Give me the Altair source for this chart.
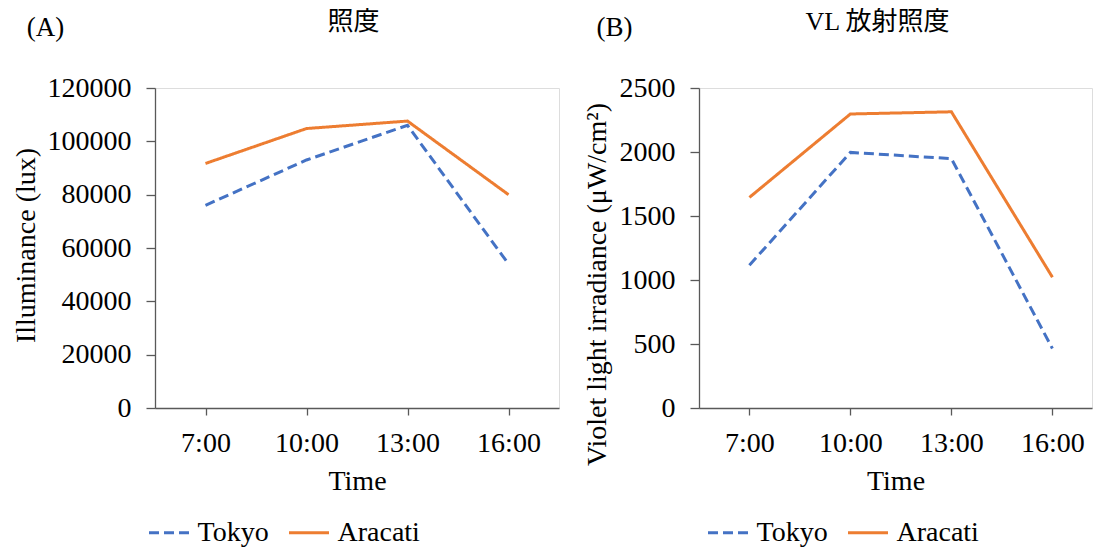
import altair as alt
import pandas as pd

# ---- data ----
times = ["7:00", "10:00", "13:00", "16:00"]
series = ["Tokyo", "Aracati"]
tokyo_lux = [76000, 93000, 106000, 54000]
aracati_lux = [91700, 104800, 107600, 80000]
tokyo_vl = [1115, 1997, 1948, 465]
aracati_vl = [1645, 2297, 2314, 1022]
lux_ticks = [0, 20000, 40000, 60000, 80000, 100000, 120000]
vl_ticks = [0, 500, 1000, 1500, 2000, 2500]

colors = ["#4472C4", "#ED7D31"]
dashes = [[10, 5], [1, 0]]

SERIF = "Liberation Serif"
MIXED = "Liberation Serif, Noto Sans CJK JP"
AXIS_COLOR = "#595959"
H = 320


def frame(tok, ara):
    rows = []
    for name, vals in zip(series, [tok, ara]):
        for t, v in zip(times, vals):
            rows.append({"Time": t, "Series": name, "Value": v})
    return pd.DataFrame(rows)


def panel(df, width, xscale, ytitle, ydomain, yticks, title, title_x, label,
          label_x, legend_x, ytitle_x, ytitle_y):
    legend = alt.Legend(
        title=None, orient="none", legendX=legend_x, legendY=423,
        direction="horizontal", symbolType="stroke", symbolSize=1600,
        symbolStrokeWidth=3, labelFont=SERIF, labelFontSize=28,
        labelColor="black", labelOffset=7, columnPadding=13, padding=0,
        labelLimit=0,
    )
    line = alt.Chart(df).mark_line(strokeWidth=3).encode(
        x=alt.X("Time:N", sort=times, scale=xscale,
                axis=alt.Axis(title="Time", labelAngle=0, tickSize=7,
                              labelPadding=14, labelFont=SERIF,
                              labelFontSize=28, labelColor="black",
                              titleFont=SERIF, titleFontSize=28,
                              titleFontWeight="normal", titleColor="black",
                              titleY=59, titleBaseline="top",
                              domainColor=AXIS_COLOR, tickColor=AXIS_COLOR,
                              domainWidth=1.3, tickWidth=1.3, grid=False)),
        y=alt.Y("Value:Q", scale=alt.Scale(domain=ydomain, nice=False),
                axis=alt.Axis(title=ytitle, values=yticks, format="d",
                              tickSize=9, labelPadding=15, labelFont=SERIF,
                              labelFontSize=28, labelColor="black",
                              titleFont=SERIF, titleFontSize=28,
                              titleFontWeight="normal", titleColor="black",
                              titleAngle=270, titleBaseline="alphabetic",
                              titleX=ytitle_x, titleY=ytitle_y,
                              domainColor=AXIS_COLOR, tickColor=AXIS_COLOR,
                              domainWidth=1.3, tickWidth=1.3, grid=False)),
        color=alt.Color("Series:N", sort=series,
                        scale=alt.Scale(domain=series, range=colors),
                        legend=legend),
        strokeDash=alt.StrokeDash("Series:N", sort=series,
                                  scale=alt.Scale(domain=series, range=dashes),
                                  legend=legend),
    )
    tag = alt.Chart(pd.DataFrame({"label": [label]})).mark_text(
        font=SERIF, fontSize=27, align="center", baseline="middle",
        color="black",
    ).encode(x=alt.value(label_x), y=alt.value(-60), text="label:N")
    head = alt.Chart(pd.DataFrame({"title": [title]})).mark_text(
        font=MIXED, fontSize=26, align="center", baseline="middle",
        color="black",
    ).encode(x=alt.value(title_x), y=alt.value(-66), text="title:N")
    return alt.layer(line, tag, head).properties(width=width, height=H)


a = panel(frame(tokyo_lux, aracati_lux), 404,
          alt.Scale(type="point", padding=0.5),
          "Illuminance (lux)", [0, 120000], lux_ticks, "照度", 198.5,
          "(A)", -109.5, -7.5, -120.5, 157)
b = panel(frame(tokyo_vl, aracati_vl), 393,
          alt.Scale(type="point", padding=0.4455, align=0.56),
          "Violet light irradiance (μW/cm²)", [0, 2500], vl_ticks,
          "VL 放射照度", 178.5, "(B)", -84.5, 7.5, -93.5, 196)

chart = alt.hconcat(a, b, spacing=140, bounds="flush").resolve_legend(
    color="independent", strokeDash="independent"
).properties(
    padding={"left": 4, "top": 0, "right": 0, "bottom": 0}
).configure_view(stroke=None).configure(background="white")

chart.save("out.html", embed_options={"renderer": "svg", "actions": False})
